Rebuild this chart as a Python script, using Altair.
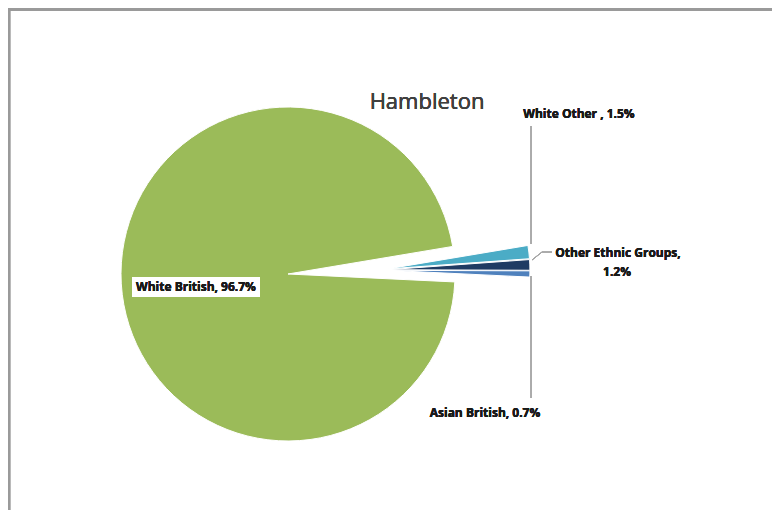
import math
import altair as alt
import pandas as pd

# ---- data ----
categories = ["White Other", "Other Ethnic Groups", "Asian British", "White British"]
values = [1.5, 1.2, 0.7, 96.7]
colors = ["#4BACC6", "#1F3B63", "#4F81BD", "#9BBB59"]
title_text = "Hambleton"

df = pd.DataFrame({"category": categories, "value": values, "order": list(range(len(categories)))})

# ---- layout (view coordinates) ----
W, H = 764, 502
CX, CY = 280, 266
R_MAIN = 167
R_SMALL = 142
EXPLODE = 90          # common shift of the small slices
EXPLODE_DIR = math.radians(87.5)
SPREAD = 10           # extra per-slice separation along each bisector
START = math.radians(80.5)
FONT = "Open Sans"
LABEL_COLOR = "#1a1a1a"
LINE_COLOR = "#a6a6a6"

base = (
    alt.Chart(df)
    .transform_joinaggregate(total="sum(value)")
    .transform_window(cum="sum(value)", sort=[alt.SortField("order")], frame=[None, 0])
    .transform_calculate(
        t0=f"{START} + 2*PI*(datum.cum - datum.value)/datum.total",
        t1=f"{START} + 2*PI*datum.cum/datum.total",
    )
    .transform_calculate(
        mid="(datum.t0 + datum.t1)/2",
        small="datum.category == 'White British' ? 0 : 1",
        rad=f"datum.category == 'White British' ? {R_MAIN} : {R_SMALL}",
    )
    .transform_calculate(
        px=f"{CX} + datum.small*({EXPLODE}*sin({EXPLODE_DIR}) + {SPREAD}*sin(datum.mid))",
        py=f"{CY} - datum.small*({EXPLODE}*cos({EXPLODE_DIR}) + {SPREAD}*cos(datum.mid))",
    )
)

pie = base.mark_arc(stroke="white", strokeWidth=1).encode(
    theta=alt.Theta("t0:Q", scale=None),
    theta2="t1:Q",
    radius=alt.Radius("rad:Q", scale=None),
    x=alt.X("px:Q", scale=None),
    y=alt.Y("py:Q", scale=None),
    color=alt.Color("category:N", scale=alt.Scale(domain=categories, range=colors), legend=None),
)

def label(text, x, y, size=12, bold=True, color=LABEL_COLOR, baseline="middle"):
    return alt.Chart(df).mark_text(
        font=FONT, fontSize=size, fontWeight="bold" if bold else "normal",
        color=color, align="center", baseline=baseline,
    ).encode(x=alt.value(x), y=alt.value(y), text=alt.value(text))

def rule(x, y, x2, y2, color=LINE_COLOR, width=1):
    return alt.Chart(df).mark_rule(color=color, strokeWidth=width).encode(
        x=alt.value(x), y=alt.value(y), x2=alt.value(x2), y2=alt.value(y2)
    )

frame_top = rule(0, 1.5, W, 1.5, color="#9a9a9a", width=2.5)
frame_left = rule(1, 0, 1, H, color="#9a9a9a", width=2.5)

title = label(title_text, 419, 101, size=22, bold=False, color="#404040", baseline="alphabetic")

wb_box = alt.Chart(df).mark_rect(color="white").encode(
    x=alt.value(124), x2=alt.value(252), y=alt.value(269), y2=alt.value(289)
)
wb_label = label(f"{categories[3]}, {values[3]}%", 188, 279)
wo_label = label(f"{categories[0]} , {values[0]}%", 571, 106)
oe_label1 = label(f"{categories[1]},", 610, 245)
oe_label2 = label(f"{values[1]}%", 609, 264)
ab_label = label(f"{categories[2]}, {values[2]}%", 477, 405)

lines = [
    rule(523, 118, 523, 236),
    rule(523, 268, 523, 390),
    rule(524, 252, 534, 244),
    rule(534, 244, 544, 244),
]

chart = alt.layer(
    frame_top, frame_left, pie, *lines, wb_box, wb_label, wo_label, oe_label1, oe_label2, ab_label, title
).properties(width=W, height=H, padding=0, autosize="none").configure_view(stroke=None)

chart.save("out.html", embed_options={"renderer": "svg", "actions": False})
